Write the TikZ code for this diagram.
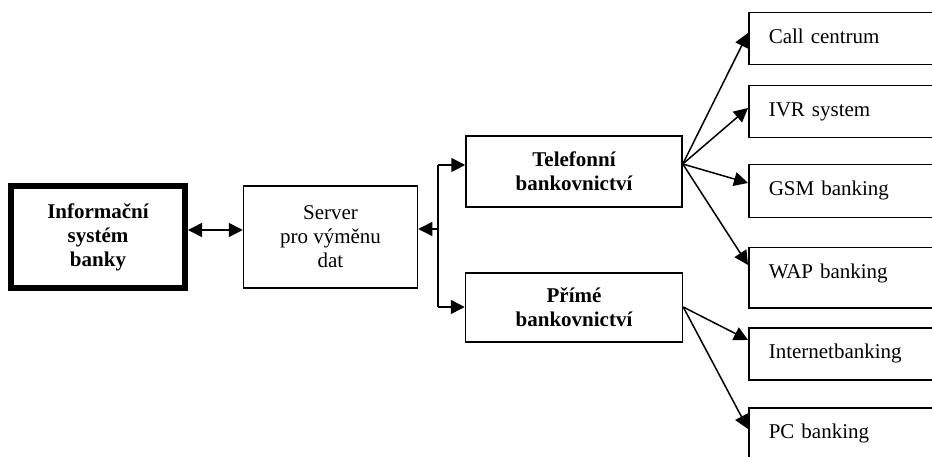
\documentclass[tikz,border=0pt]{standalone}
\usepackage{fontspec}
\setmainfont{Liberation Serif}
\usetikzlibrary{arrows.meta}
\begin{document}
\begin{tikzpicture}[x=1pt,y=-1pt,
  every node/.style={font=\fontsize{21}{24}\selectfont},
  cbox/.style={draw, line width=1.5pt, align=center, inner sep=0pt},
  rbox/.style={draw, line width=1.5pt, anchor=north west, text width=180pt, align=left,
    inner xsep=20pt, inner ysep=0pt, text height=31pt},
  arr/.style={line width=1.5pt, -{Triangle[length=14pt,width=14pt]}},
  arrb/.style={line width=1.5pt, {Triangle[length=14pt,width=14pt]}-{Triangle[length=14pt,width=14pt]}},
  conn/.style={line width=1.5pt}]
\clip (0,0) rectangle (932,457);
\fill[white] (0,0) rectangle (932,457);
% left boxes
\node[cbox, line width=6pt, minimum width=174pt, minimum height=102pt, font=\fontsize{21}{24}\selectfont\bfseries] (isb) at (98,237) {Informační\\systém\\banky};
\node[cbox, minimum width=174pt, minimum height=102pt] (srv) at (330.5,237) {Server\\pro výměnu\\dat};
\node[cbox, minimum width=216pt, minimum height=71pt, font=\fontsize{21}{24}\selectfont\bfseries] (tel) at (574,171.5) {Telefonní\\bankovnictví};
\node[cbox, minimum width=217pt, minimum height=69pt, font=\fontsize{21}{24}\selectfont\bfseries] (pri) at (574,307.5) {Přímé\\bankovnictví};
% right boxes
\node[rbox, text depth=21pt] (cc) at (748,12) {Call centrum};
\node[rbox, text depth=21pt] (ivr) at (748,85) {IVR system};
\node[rbox, text depth=22pt] (gsm) at (748,164) {GSM banking};
\node[rbox, text depth=29pt] (wap) at (748,247) {WAP banking};
\node[rbox, text depth=21pt] (inb) at (748,327) {Internetbanking};
\node[rbox, text depth=30pt] (pcb) at (748,407) {PC banking};
% connectors
\draw[arrb] (isb.east |- 0,230) -- (srv.west |- 0,230);
\coordinate (jt) at (438,165);
\coordinate (jm) at (438,229);
\coordinate (jp) at (438,307);
\draw[conn] (jt) -- (jp);
\draw[arr] (jm) -- (srv.east |- jm);
\draw[arr] (jt) -- (tel.west |- jt);
\draw[arr] (jp) -- (pri.west |- jp);
\coordinate (to) at (tel.east |- 0,164);
\coordinate (po) at (pri.east |- 0,307);
\draw[arr] (to) -- (cc.west |- 0,33);
\draw[arr] (to) -- (ivr.west |- 0,108);
\draw[arr] (to) -- (gsm.west |- 0,183);
\draw[arr] (to) -- (wap.west |- 0,265);
\draw[arr] (po) -- (inb.west |- 0,340);
\draw[arr] (po) -- (pcb.west |- 0,429);
\end{tikzpicture}
\end{document}
